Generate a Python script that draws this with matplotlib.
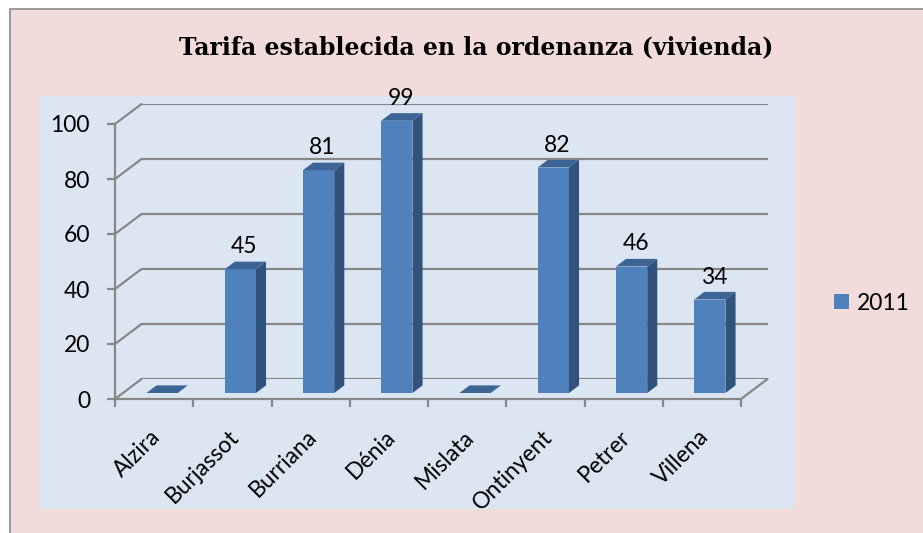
"""Excel-style 3D column chart: Tarifa establecida en la ordenanza (vivienda)."""

import matplotlib

matplotlib.use("Agg")

import matplotlib.pyplot as plt
from matplotlib.patches import Rectangle, Polygon, ConnectionPatch
from matplotlib.transforms import ScaledTranslation, IdentityTransform

# data
CITIES = ["Alzira", "Burjassot", "Burriana", "Dénia", "Mislata",
          "Ontinyent", "Petrer", "Villena"]
TARIFA_2011 = [0, 45, 81, 99, 0, 82, 46, 34]
SERIES_NAME = "2011"
TITLE = "Tarifa establecida en la ordenanza (vivienda)"
Y_TICKS = [0, 20, 40, 60, 80, 100]

# style
W, H, DPI = 923, 533, 100
PINK = "#F2DCDB"
PLOT_BG = "#DCE6F2"
GRID = "#878787"
FRONT = "#4F81BD"
SIDE = "#30527D"
TOP = "#3C6596"
DEPTH = (26.5, 20.0)          # full depth offset of the back wall, px
BAR_D0, BAR_D1 = 0.30, 0.68   # depth range of the bars (fraction)
BAR_W = 0.40
FS = 16.5
LABEL_FONT = ["Lato", "DejaVu Sans"]

plt.rcParams["font.family"] = LABEL_FONT

fig = plt.figure(figsize=(W / DPI, H / DPI), dpi=DPI)
fig.patch.set_facecolor("white")


def fx(px):
    return px / W


def fy(py):
    return 1 - py / H


# chart area and plot area
fig.add_artist(Rectangle((fx(10), fy(560)), fx(940) - fx(10), fy(9) - fy(560),
                         transform=fig.transFigure, facecolor=PINK,
                         edgecolor="#8C8C8C", linewidth=1.2, zorder=-5))
fig.add_artist(Rectangle((fx(40), fy(509)), fx(794) - fx(40), fy(96) - fy(509),
                         transform=fig.transFigure, facecolor=PLOT_BG,
                         edgecolor="none", zorder=-4))

# front plane axes: x from 115 to 741 px, y=0 at 399 px, y=100 at 124 px
left, right, y0, y100 = 115, 741, 399, 124
ax = fig.add_axes([fx(left), fy(y0), fx(right) - fx(left), fy(y100) - fy(y0)])
back = fig.add_axes([fx(left + DEPTH[0]), fy(y0 - DEPTH[1]),
                     fx(right) - fx(left), fy(y100) - fy(y0)], zorder=-1)
for a in (ax, back):
    a.set_xlim(-0.5, len(CITIES) - 0.5)
    a.set_ylim(0, 100)
    a.patch.set_alpha(0)

# back wall gridlines
back.set_yticks(Y_TICKS)
back.yaxis.grid(True, color=GRID, linewidth=1.6)
back.tick_params(left=False, bottom=False, labelleft=False, labelbottom=False)
for s in back.spines.values():
    s.set_visible(False)

# side wall / floor diagonals
for v in Y_TICKS:
    fig.add_artist(ConnectionPatch((-0.5, v), (-0.5, v), coordsA=ax.transData,
                                   coordsB=back.transData, color=GRID, linewidth=1.6))
fig.add_artist(ConnectionPatch((len(CITIES) - 0.5, 0), (len(CITIES) - 0.5, 0),
                               coordsA=ax.transData, coordsB=back.transData,
                               color=GRID, linewidth=1.6))

# front axes spines and ticks
for name in ("top", "right"):
    ax.spines[name].set_visible(False)
for name in ("left", "bottom"):
    ax.spines[name].set_color(GRID)
    ax.spines[name].set_linewidth(1.6)
ax.set_yticks(Y_TICKS)
ax.tick_params(axis="y", direction="out", length=6, width=1.6, color=GRID,
               pad=12, labelsize=FS)
x = list(range(len(CITIES)))
ax.set_xticks(x)
ax.set_xticklabels(CITIES, rotation=45, ha="right", va="top",
                   rotation_mode="anchor", fontsize=FS)
ax.set_xticks([i - 0.5 for i in range(len(CITIES) + 1)], minor=True)
ax.tick_params(axis="x", which="major", length=0, pad=19.5)
ax.tick_params(axis="x", which="minor", direction="out", length=6, width=1.6,
               color=GRID)
shift = ScaledTranslation(-4 / DPI, 0, fig.dpi_scale_trans)
for lab in ax.get_xticklabels():
    lab.set_transform(lab.get_transform() + shift)

# bars
f_off = (DEPTH[0] * BAR_D0, DEPTH[1] * BAR_D0)
b_off = (DEPTH[0] * BAR_D1, DEPTH[1] * BAR_D1)
bars = ax.bar(x, TARIFA_2011, width=BAR_W, color=FRONT, linewidth=0,
              label=SERIES_NAME, zorder=3, clip_on=False)
front_tr = ax.transData + ScaledTranslation(f_off[0] / DPI, f_off[1] / DPI,
                                            fig.dpi_scale_trans)
for p in bars:
    p.set_transform(front_tr)

fig.canvas.draw()
for xi, v in zip(x, TARIFA_2011):
    (xl, yb), (xr, yt) = ax.transData.transform([(xi - BAR_W / 2, 0),
                                                 (xi + BAR_W / 2, v)])
    side = [(xr + f_off[0], yb + f_off[1]), (xr + f_off[0], yt + f_off[1]),
            (xr + b_off[0], yt + b_off[1]), (xr + b_off[0], yb + b_off[1])]
    top = [(xl + f_off[0], yt + f_off[1]), (xr + f_off[0], yt + f_off[1]),
           (xr + b_off[0], yt + b_off[1]), (xl + b_off[0], yt + b_off[1])]
    fig.add_artist(Polygon(side, closed=True, transform=IdentityTransform(),
                           facecolor=SIDE, edgecolor="none", zorder=2))
    fig.add_artist(Polygon(top, closed=True, transform=IdentityTransform(),
                           facecolor=TOP, edgecolor="none", zorder=2))
    if v:
        ax.annotate(str(v), xy=(xi, v), xytext=(f_off[0] + 4, 22),
                    textcoords="offset pixels", ha="center", va="baseline",
                    fontsize=FS, annotation_clip=False)

# title
fig.text(fx(476), fy(47), TITLE, ha="center", va="center", fontsize=17,
         fontweight="bold", family=["DejaVu Serif"])

# legend
fig.legend(handles=[bars], labels=[SERIES_NAME], loc="center left",
           bbox_to_anchor=(fx(834), fy(303)), frameon=False, fontsize=FS,
           handlelength=0.65, handleheight=0.65, handletextpad=0.35,
           borderpad=0, borderaxespad=0)

fig.savefig("out.png", dpi=DPI)
